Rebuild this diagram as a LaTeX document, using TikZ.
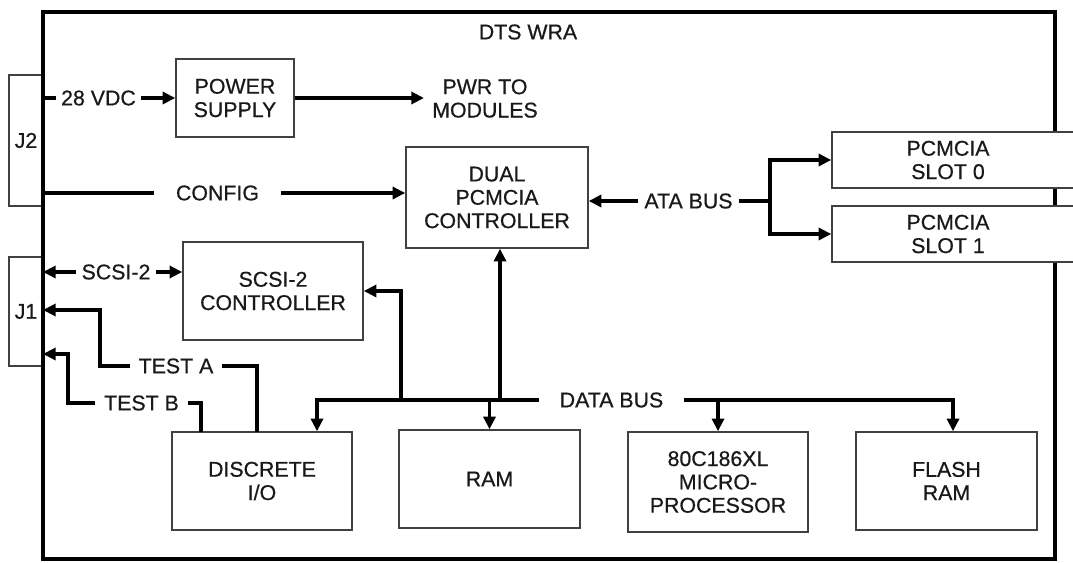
\documentclass[tikz,border=0pt]{standalone}
\usepackage{fontspec}
\setmainfont{Liberation Sans}[FakeBold=0.6]
\usetikzlibrary{arrows.meta}
\begin{document}
\begin{tikzpicture}[x=0.75pt,y=-0.75pt,
  font=\fontsize{16}{17.5}\selectfont,
  every node/.style={text=black!90},
  box/.style={draw=black!75, line width=1.1pt, fill=white, align=center, inner sep=0pt},
  jbox/.style={draw=black!75, line width=0.8pt, fill=white, inner sep=0pt},
  lbl/.style={inner ysep=0pt, inner xsep=#1, align=center},
  wire/.style={line width=2.4pt},
  arr/.style={wire, -{Triangle[length=9.5pt,width=9pt]}},
  darr/.style={wire, {Triangle[length=9.5pt,width=9pt]}-{Triangle[length=9.5pt,width=9pt]}},
]
\useasboundingbox (0,0) rectangle (1073,563);

% connectors' boxes
\node[jbox, minimum width=25.5pt, minimum height=98.25pt] (j2) at (26,140.5) {J2};
\node[jbox, minimum width=25.5pt, minimum height=81.75pt] (j1) at (26,311.5) {J1};

% frame
\draw[line width=2.4pt] (43,12) rectangle (1055,559);
\node (title) at (528,32) {DTS WRA};

% blocks
\node[box, minimum width=88.5pt, minimum height=58.5pt] (ps) at (235,98) {POWER\\SUPPLY};
\node[box, minimum width=136.5pt, minimum height=75.75pt] (dual) at (497,197.5) {DUAL\\PCMCIA\\CONTROLLER};
\node[box, minimum width=135pt, minimum height=73.5pt] (scsi) at (273,291) {SCSI-2\\CONTROLLER};
\node[box, minimum width=135pt, minimum height=73.5pt] (disc) at (262,481) {DISCRETE\\I/O};
\node[box, minimum width=135.75pt, minimum height=73.5pt] (ram) at (489.5,479) {RAM};
\node[box, minimum width=135pt, minimum height=75pt] (micro) at (718,482) {80C186XL\\MICRO-\\PROCESSOR};
\node[box, minimum width=135.75pt, minimum height=73.5pt] (flash) at (946.5,481) {FLASH\\RAM};
\node[box, minimum width=195pt, minimum height=42pt] (s0) at (962,160) {};
\node[align=center] (s0t) at (948,160) {PCMCIA\\SLOT 0};
\node[box, minimum width=195pt, minimum height=42pt] (s1) at (962,234) {};
\node[align=center] (s1t) at (948,234) {PCMCIA\\SLOT 1};

% labels
\node[lbl=3.75pt] (vdc) at (98.5,98) {28 VDC};
\node[lbl=6pt] (pwr) at (485,98.5) {PWR TO\\MODULES};
\node[lbl=16pt] (cfg) at (217.5,193) {CONFIG};
\node[lbl=4pt] (scsil) at (116,272) {SCSI-2};
\node[lbl=6pt] (testa) at (176,366) {TEST A};
\node[lbl=6.5pt] (testb) at (141.5,403) {TEST B};
\node[lbl=4.5pt] (ata) at (688.5,201) {ATA BUS};
\node[lbl=15pt] (databus) at (611.5,400) {DATA BUS};

% coordinates
\coordinate (fvdc) at (43,98);
\coordinate (fcfg) at (43,193);
\coordinate (fscsi) at (43,272);
\coordinate (fta) at (43,310);
\coordinate (ftb) at (43,354);
\coordinate (ta) at (100,310);
\coordinate (tb) at (68,354);
\coordinate (dta) at (257,432);
\coordinate (dtb) at (201,432);
\coordinate (bl) at (317,400);
\coordinate (br) at (953,400);
\coordinate (t1) at (401,400);
\coordinate (t2) at (500,400);
\coordinate (ab) at (770,201);

% power / config
\draw[wire] (fvdc) -- (vdc.west);
\draw[arr] (vdc.east) -- (ps.west);
\draw[arr] (ps.east) -- (ps.east -| pwr.west);
\draw[wire] (fcfg) -- (cfg.west);
\draw[arr] (cfg.east) -- (cfg.east -| dual.west);

% scsi
\draw[arr] (scsil.west) -- (fscsi);
\draw[arr] (scsil.east) -- (scsil.east -| scsi.west);

% tests
\draw[wire] (dta) |- (testa.east);
\draw[arr] (testa.west) -| (ta) -- (fta);
\draw[wire] (dtb) |- (testb.east);
\draw[arr] (testb.west) -| (tb) -- (ftb);

% data bus
\draw[arr] (databus.west) -| (disc.north -| bl);
\draw[arr] (databus.east) -| (flash.north -| br);
\draw[arr] (t1) |- (scsi.east);
\draw[arr] (t2) -- (t2 |- dual.south);
\draw[arr] (ram.north |- bl) -- (ram.north);
\draw[arr] (micro.north |- br) -- (micro.north);

% ata bus
\draw[arr] (ata.west) -- (ata.west -| dual.east);
\draw[wire] (ata.east) -- (ab);
\draw[arr] (ab) |- (s0.west);
\draw[arr] (ab) |- (s1.west);
\end{tikzpicture}
\end{document}
